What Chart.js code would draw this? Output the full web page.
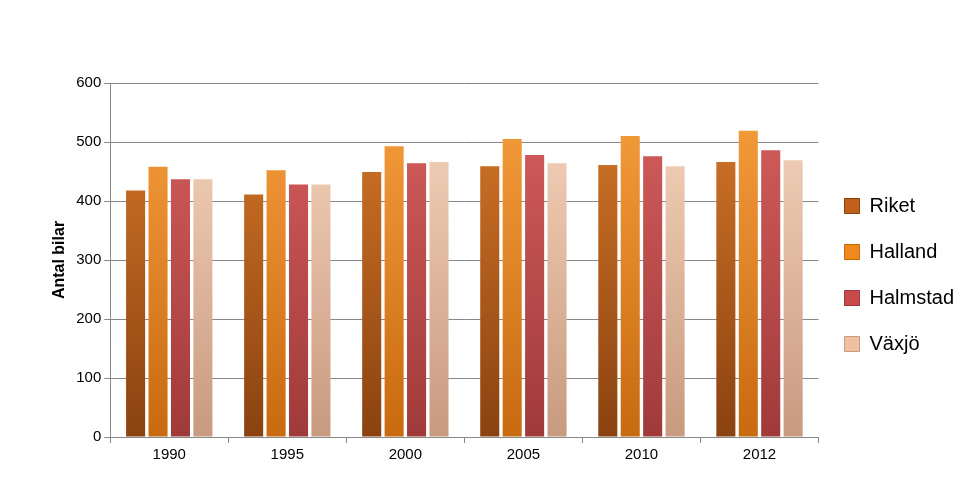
<!DOCTYPE html>
<html>
<head>
<meta charset="utf-8">
<script src="https://cdn.jsdelivr.net/npm/chart.js@4/dist/chart.umd.min.js"></script>
<style>
  body { margin: 0; background: #fff; }
</style>
</head>
<body>
<canvas id="c" width="967" height="489"></canvas>
<script>
const years = ["1990", "1995", "2000", "2005", "2010", "2012"];
const riket = [418, 411, 449, 459, 461, 466];
const halland = [458, 452, 493, 505, 510, 519];
const halmstad = [437, 428, 464, 478, 476, 486];
const vaxjo = [437, 428, 466, 464, 459, 469];

// light at top, darker at bottom, like the bevelled bars
function grad(top, bottom) {
  return (ctx) => {
    const area = ctx.chart.chartArea;
    if (!area) return bottom;
    const g = ctx.chart.ctx.createLinearGradient(0, area.top, 0, area.bottom);
    g.addColorStop(0, top);
    g.addColorStop(1, bottom);
    return g;
  };
}

const series = [
  { label: "Riket", data: riket, top: "#d97a2a", bottom: "#8a4210", solid: "#c0601a" },
  { label: "Halland", data: halland, top: "#f8a040", bottom: "#c86a10", solid: "#f08a1e" },
  { label: "Halmstad", data: halmstad, top: "#d86060", bottom: "#a03a3a", solid: "#c84a4a" },
  { label: "Växjö", data: vaxjo, top: "#f8d8c0", bottom: "#c89a80", solid: "#f0c0a0" },
];

new Chart(document.getElementById("c"), {
  type: "bar",
  data: {
    labels: years,
    datasets: series.map((s) => ({
      label: s.label,
      data: s.data,
      backgroundColor: grad(s.top, s.bottom),
      borderWidth: 0,
      barPercentage: 0.85,
      categoryPercentage: 0.76,
    })),
  },
  options: {
    responsive: false,
    animation: false,
    layout: { padding: { top: 83, right: 3, bottom: 22, left: 46 } },
    plugins: {
      tooltip: { enabled: false },
      legend: {
        position: "right",
        labels: {
          font: { family: "Liberation Sans", size: 20 },
          color: "#000",
          boxWidth: 15,
          boxHeight: 15,
          padding: 26,
          generateLabels: () =>
            series.map((s, i) => ({
              text: s.label,
              fillStyle: s.solid,
              strokeStyle: s.bottom,
              lineWidth: 1,
              datasetIndex: i,
            })),
        },
      },
    },
    scales: {
      x: {
        grid: { color: "#888", drawOnChartArea: false, tickLength: 6 },
        border: { color: "#888" },
        ticks: { color: "#000", font: { family: "Liberation Sans", size: 15 } },
      },
      y: {
        min: 0,
        max: 600,
        ticks: { stepSize: 100, color: "#000", font: { family: "Liberation Sans", size: 15 } },
        grid: { color: "#888", tickLength: 6 },
        border: { color: "#888" },
        title: {
          display: true,
          text: "Antal bilar",
          color: "#000",
          font: { family: "Liberation Sans", size: 16, weight: "bold" },
        },
      },
    },
  },
});
</script>
</body>
</html>
